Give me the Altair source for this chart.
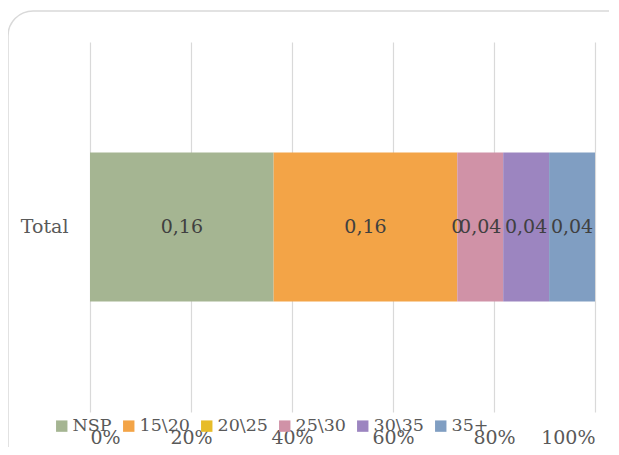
import altair as alt
import pandas as pd

categories = ["NSP", "15\\20", "20\\25", "25\\30", "30\\35", "35+"]
values = [0.16, 0.16, 0.0, 0.04, 0.04, 0.04]
colors = ["#A5B592", "#F3A447", "#E7BC29", "#D092A7", "#9C85C0", "#809EC2"]
row_label = "Total"

df = pd.DataFrame({"serie": categories, "value": values,
                   "idx": list(range(len(categories))), "row": row_label})

FONT = "DejaVu Serif"
FS = 19

base = alt.Chart(df).transform_calculate(
    label="replace(format(datum.value, '~g'), '.', ',')"
).transform_stack(
    stack="value", groupby=["row"], as_=["s0", "s1"], offset="normalize",
    sort=[alt.SortField("idx", order="ascending")]
).transform_calculate(mid="(datum.s0 + datum.s1) / 2")

bars = base.mark_bar(size=149).encode(
    x=alt.X("s0:Q", scale=alt.Scale(domain=[0, 1], nice=False),
            axis=alt.Axis(format="%", values=[0, 0.2, 0.4, 0.6, 0.8, 1.0],
                          domain=False, ticks=False, labelPadding=16,
                          labelFontSize=FS, labelFont=FONT, labelColor="#595959",
                          grid=True, gridColor="#D9D9D9", gridWidth=1.2, title=None)),
    x2="s1:Q",
    y=alt.Y("row:N", axis=alt.Axis(domain=False, ticks=False, labelPadding=22,
                                   labelFontSize=FS, labelFont=FONT,
                                   labelColor="#595959", title=None)),
    color=alt.Color("serie:N", scale=alt.Scale(domain=categories, range=colors),
                    sort=categories,
                    legend=alt.Legend(orient="none", direction="horizontal",
                                      legendX=-37, legendY=375, title=None,
                                      symbolType="square", symbolSize=130,
                                      symbolStrokeWidth=0,
                                      labelFont=FONT, labelFontSize=17.5,
                                      labelColor="#595959", columnPadding=8,
                                      labelOffset=2)),
)

texts = base.mark_text(font=FONT, fontSize=FS, color="#404040").encode(
    x="mid:Q", y="row:N", text="label:N"
)

frame = alt.Chart(df.head(1)).mark_rect(
    fill=None, stroke="#D9D9D9", strokeWidth=1.5, cornerRadius=25
).encode(x=alt.value(-82), x2=alt.value(640), y=alt.value(-31), y2=alt.value(440))

chart = alt.layer(frame, bars, texts).properties(
    width=505, height=370, autosize="none",
    padding={"left": 82, "top": 34, "right": 14, "bottom": 35},
).configure_view(stroke=None)

chart.save("out.html", embed_options={"renderer": "svg", "actions": False})
